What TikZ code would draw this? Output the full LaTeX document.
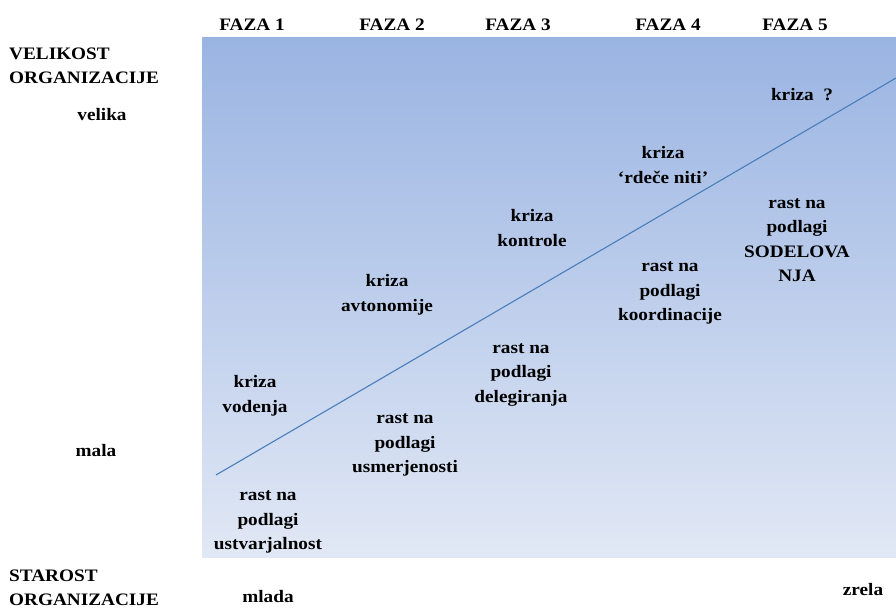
\documentclass[tikz,border=0pt]{standalone}
\usepackage{fontspec}
\setmainfont{Liberation Serif}[FakeStretch=1.1]
\usepackage{tikz}

\definecolor{topblue}{RGB}{154,180,226}
\definecolor{lowblue}{RGB}{225,232,245}
\definecolor{linblue}{RGB}{74,126,187}

\begin{document}
\begin{tikzpicture}[x=1pt, y=-1pt,
    lbl/.style={font=\fontsize{17.5}{24.5}\selectfont\bfseries, align=center, inner sep=0pt},
    axis/.style={lbl, align=left, anchor=west}]

\useasboundingbox (0,0) rectangle (896,610);

% Background
\shade[top color=topblue, bottom color=lowblue] (202,38) rectangle (896,557);

% Phases
\foreach \x/\n in {252/1, 392/2, 518/3, 668/4, 795/5}
    \node[lbl] (faza\n) at (\x,25) {FAZA \n};

% Axes
\node[axis] (velikost) at (9,66) {VELIKOST\\ORGANIZACIJE};
\node[lbl] (velika) at (102,115) {velika};
\node[lbl] (mala) at (96,451) {mala};
\node[axis] (starost) at (9,588) {STAROST\\ORGANIZACIJE};
\node[lbl] (mlada) at (268,597) {mlada};
\node[lbl] (zrela) at (863,590) {zrela};

% Growth line
\coordinate (start) at (216,475);
\coordinate (end) at (896,78);
\draw[linblue, line width=1.1pt] (start) -- (end);

% Crises
\node[lbl] (kriza1) at (255,396) {kriza\\vodenja};
\node[lbl] (kriza2) at (387,295) {kriza\\avtonomije};
\node[lbl] (kriza3) at (532,228) {kriza\\kontrole};
\node[lbl] (kriza4) at (663,165) {kriza\\‘rdeče niti’};
\node[lbl] (kriza5) at (802,95) {kriza\ \ ?};

% Growth
\node[lbl] (rast1) at (268,522) {rast na\\podlagi\\ustvarjalnost};
\node[lbl] (rast2) at (405,445) {rast na\\podlagi\\usmerjenosti};
\node[lbl] (rast3) at (521,375) {rast na\\podlagi\\delegiranja};
\node[lbl] (rast4) at (670,293) {rast na\\podlagi\\koordinacije};
\node[lbl] (rast5) at (797,240) {rast na\\podlagi\\SODELOVA\\NJA};

\end{tikzpicture}
\end{document}
